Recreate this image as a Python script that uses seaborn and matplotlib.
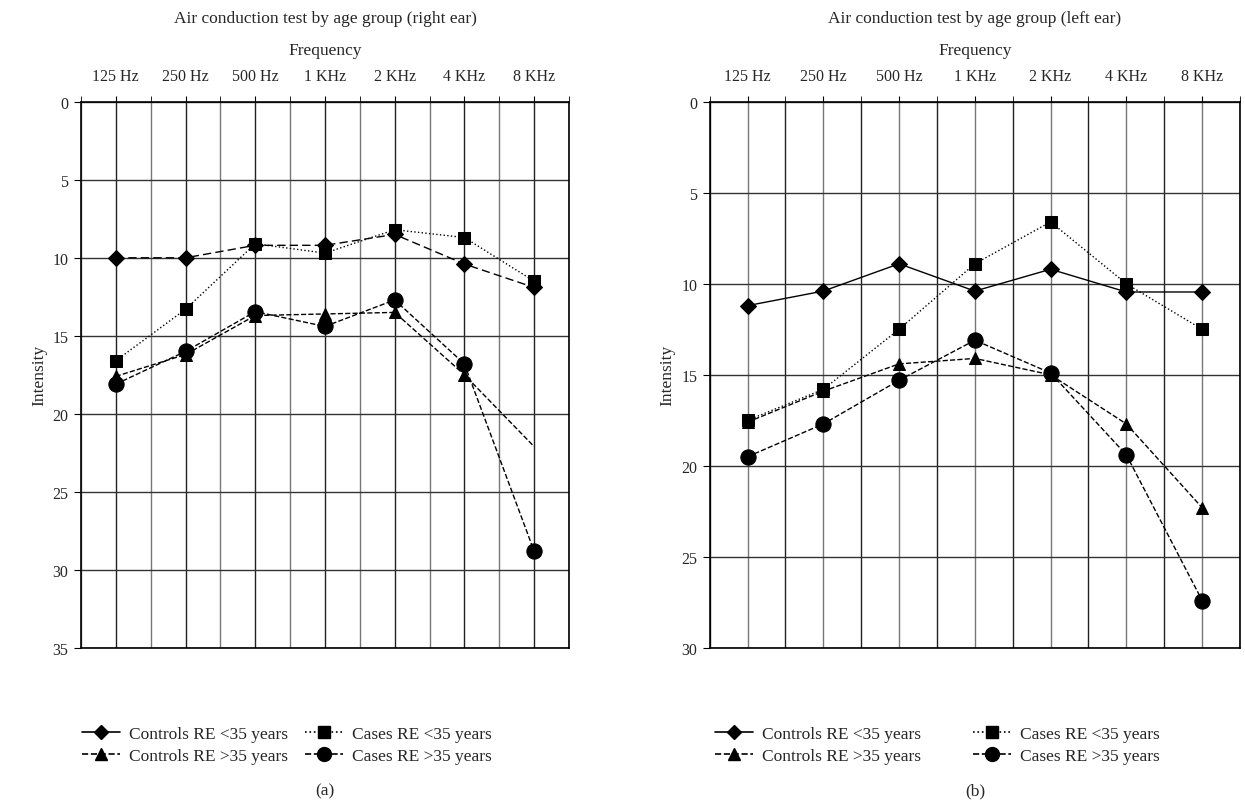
import numpy as np
import matplotlib
matplotlib.use('Agg')
import matplotlib.pyplot as plt
from matplotlib.lines import Line2D
import seaborn as sns

# frequencies and intensity values
freqs = ['125 Hz', '250 Hz', '500 Hz', '1 KHz', '2 KHz', '4 KHz', '8 KHz']

right_ctrl_lt35 = [10.0, 10.0, 9.2, 9.2, 8.5, 10.4, 11.9]
right_case_lt35 = [16.6, 13.3, 9.1, 9.7, 8.2, 8.7, 11.5]
right_ctrl_gt35 = [17.6, 16.2, 13.7, 13.6, 13.5, 17.5, 22.1]
right_case_gt35 = [18.1, 16.0, 13.45, 14.4, 12.7, 16.8, 28.8]

left_ctrl_lt35 = [11.2, 10.4, 8.9, 10.4, 9.2, 10.45, 10.45]
left_case_lt35 = [17.5, 15.8, 12.5, 8.9, 6.6, 10.0, 12.5]
left_ctrl_gt35 = [17.6, 15.9, 14.4, 14.1, 15.0, 17.7, 22.3]
left_case_gt35 = [19.5, 17.7, 15.3, 13.1, 14.9, 19.4, 27.4]

legend_labels = ['Controls RE <35 years', 'Controls RE >35 years',
                 'Cases RE <35 years', 'Cases RE >35 years']

sns.set_style('white')
plt.rcParams['font.family'] = ['Liberation Serif', 'DejaVu Serif']
plt.rcParams['font.size'] = 11.5

fig = plt.figure(figsize=(12.45, 8.03), dpi=100)
ax1 = fig.add_axes([0.065, 0.192, 0.392, 0.680])
ax2 = fig.add_axes([0.570, 0.192, 0.426, 0.680])

xpos = np.arange(len(freqs))


def draw_panel(ax, series, title, ymax, major_col, minor_col):
    for vals, marker, ms, ls, mev in series:
        sns.lineplot(x=xpos, y=vals, ax=ax, color='black', marker=marker,
                     markersize=ms, linestyle=ls, linewidth=1.0,
                     markeredgecolor='black', markevery=mev, zorder=3)
    ax.set_xlim(-0.5, 6.5)
    ax.set_ylim(ymax, 0)
    ax.set_yticks(np.arange(0, ymax + 1, 5))
    ax.set_xticks(xpos)
    ax.set_xticks(np.arange(-0.5, 6.6, 1.0), minor=True)
    ax.set_xticklabels(freqs)
    ax.xaxis.tick_top()
    ax.xaxis.set_label_position('top')
    ax.tick_params(axis='x', which='both', length=4, color='black', top=True, bottom=False, pad=9)
    ax.tick_params(axis='y', length=5, color='black', left=True, pad=4)
    ax.grid(True, which='major', axis='x', color=major_col, linewidth=1.0)
    ax.grid(True, which='minor', axis='x', color=minor_col, linewidth=1.0)
    ax.grid(True, which='major', axis='y', color='#333333', linewidth=1.0)
    for sp in ax.spines.values():
        sp.set_color('black')
        sp.set_linewidth(1.2)
    ax.set_xlabel('Frequency', labelpad=10, fontsize=12.5)
    ax.set_ylabel('Intensity', fontsize=12.5)
    ax.set_title(title, pad=14, fontsize=12.5)


draw_panel(ax1, [
    (right_ctrl_lt35, 'D', 8, (0, (6, 3)), None),
    (right_case_lt35, 's', 9, ':', None),
    (right_ctrl_gt35, '^', 9, '--', [0, 1, 2, 3, 4, 5]),
    (right_case_gt35, 'o', 11, '--', None),
], 'Air conduction test by age group (right ear)', 35, '#222222', '#777777')

draw_panel(ax2, [
    (left_ctrl_lt35, 'D', 8, '-', None),
    (left_case_lt35, 's', 9, ':', None),
    (left_ctrl_gt35, '^', 9, '--', None),
    (left_case_gt35, 'o', 11, '--', None),
], 'Air conduction test by age group (left ear)', 30, '#777777', '#222222')

handles = [
    Line2D([], [], color='black', marker='D', markersize=7, linestyle='-', linewidth=1.2),
    Line2D([], [], color='black', marker='^', markersize=8, linestyle='--', linewidth=1.2),
    Line2D([], [], color='black', marker='s', markersize=8, linestyle=':', linewidth=1.2),
    Line2D([], [], color='black', marker='o', markersize=10, linestyle='--', linewidth=1.2),
]

ax1.legend(handles, legend_labels, ncol=2, frameon=False, loc='upper left',
           bbox_to_anchor=(-0.03, -0.115), fontsize=12.5, handlelength=2.2,
           columnspacing=1.0, labelspacing=0.3, handletextpad=0.5)
ax2.legend(handles, legend_labels, ncol=2, frameon=False, loc='upper left',
           bbox_to_anchor=(-0.02, -0.115), fontsize=12.5, handlelength=2.2,
           columnspacing=3.0, labelspacing=0.3, handletextpad=0.5)

fig.text(0.065 + 0.392 / 2, 0.01, '(a)', ha='center', fontsize=12.5)
fig.text(0.570 + 0.426 / 2, 0.01, '(b)', ha='center', fontsize=12.5)

fig.savefig('out.png', dpi=100)
